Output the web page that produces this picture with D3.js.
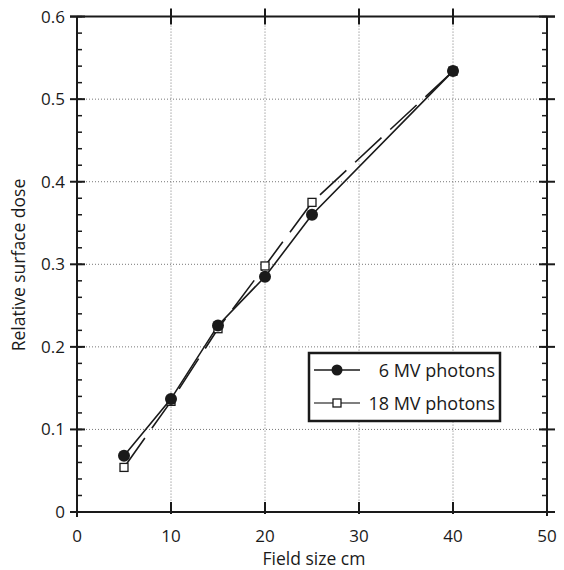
<!DOCTYPE html>
<html><head><meta charset="utf-8">
<script src="https://cdn.jsdelivr.net/npm/d3@7"></script>
<style>body{margin:0;background:#fff}svg{display:block}text{font-family:"Open Sans",sans-serif;fill:#1a1a1a}</style>
</head><body><svg id="c" width="564" height="570"></svg>
<script>
const fieldSizes = [5, 10, 15, 20, 25, 40];
const dose6MV = [0.068, 0.137, 0.226, 0.285, 0.360, 0.534];
const dose18MV = [0.054, 0.134, 0.222, 0.298, 0.375, 0.534];
const xTicks = [0, 10, 20, 30, 40, 50];
const yTicks = [0, 0.1, 0.2, 0.3, 0.4, 0.5, 0.6];
const yMinor = d3.range(0, 0.6001, 0.02);
const seriesNames = ["6 MV photons", "18 MV photons"];

const svg = d3.select("#c");
const x = d3.scaleLinear().domain([0, 50]).range([77, 547]);
const y = d3.scaleLinear().domain([0, 0.6]).range([512, 16.6]);
const L = 77, R = 547, T = 16.6, B = 512;

// gridlines
const g = svg.append("g");
g.selectAll(".gx").data(xTicks.slice(1, -1)).join("line")
  .attr("x1", d => x(d)).attr("x2", d => x(d)).attr("y1", T).attr("y2", B)
  .attr("stroke", "#777").attr("stroke-width", 1).attr("stroke-dasharray", "1,2");
g.selectAll(".gy").data(yTicks.slice(1, -1)).join("line")
  .attr("y1", d => y(d)).attr("y2", d => y(d)).attr("x1", L).attr("x2", R)
  .attr("stroke", "#777").attr("stroke-width", 1).attr("stroke-dasharray", "1,2");

// frame
const ax = svg.append("g").attr("stroke", "#1a1a1a").attr("stroke-width", 2);
ax.append("line").attr("x1", L).attr("x2", L).attr("y1", T).attr("y2", B + 5);
ax.append("line").attr("x1", R).attr("x2", R).attr("y1", T).attr("y2", B + 4);
ax.append("line").attr("x1", L - 5).attr("x2", R + 8).attr("y1", B).attr("y2", B);
ax.append("line").attr("x1", L - 7).attr("x2", R + 8).attr("y1", T).attr("y2", T);

// y ticks
ax.selectAll(".ymj").data(yTicks).join("line")
  .attr("x1", L - 7).attr("x2", L + 8).attr("y1", d => y(d)).attr("y2", d => y(d));
ax.selectAll(".ymjr").data(yTicks).join("line")
  .attr("x1", R - 8).attr("x2", R + 8).attr("y1", d => y(d)).attr("y2", d => y(d));
ax.selectAll(".ymn").data(yMinor).join("line")
  .attr("x1", L).attr("x2", L + 5).attr("y1", d => y(d)).attr("y2", d => y(d)).attr("stroke-width", 1.5);
ax.selectAll(".ymnr").data(yMinor).join("line")
  .attr("x1", R - 5).attr("x2", R).attr("y1", d => y(d)).attr("y2", d => y(d)).attr("stroke-width", 1.5);
// x ticks
ax.selectAll(".xmj").data(xTicks.slice(1)).join("line")
  .attr("x1", d => x(d)).attr("x2", d => x(d)).attr("y1", B - 10).attr("y2", B + 2);
ax.selectAll(".xmjt").data(xTicks.slice(1, -1)).join("line")
  .attr("x1", d => x(d)).attr("x2", d => x(d)).attr("y1", T - 8).attr("y2", T + 8);

// tick labels
svg.selectAll(".xl").data(xTicks).join("text")
  .attr("x", d => x(d)).attr("y", B + 30).attr("text-anchor", "middle")
  .attr("font-size", 17).text(d => d);
svg.selectAll(".yl").data(yTicks).join("text")
  .attr("x", L - 12).attr("y", d => y(d) + 6).attr("text-anchor", "end")
  .attr("font-size", 17).text(d => d === 0 ? "0" : d3.format(".1f")(d));

// axis titles
svg.append("text").attr("x", 314).attr("y", 565).attr("text-anchor", "middle")
  .attr("font-size", 17.5).text("Field size cm");
svg.append("text").attr("transform", `translate(25,265) rotate(-90)`)
  .attr("text-anchor", "middle").attr("font-size", 17.5).text("Relative surface dose");

// series
const pts6 = fieldSizes.map((f, i) => [f, dose6MV[i]]);
const pts18 = fieldSizes.map((f, i) => [f, dose18MV[i]]);
const line = d3.line().x(d => x(d[0])).y(d => y(d[1]));
svg.append("path").attr("d", line(pts18)).attr("fill", "none")
  .attr("stroke", "#1a1a1a").attr("stroke-width", 1.6).attr("stroke-dasharray", "36,12");
svg.append("path").attr("d", line(pts6)).attr("fill", "none")
  .attr("stroke", "#1a1a1a").attr("stroke-width", 1.6);
svg.selectAll(".sq").data(pts18).join("rect")
  .attr("x", d => x(d[0]) - 4).attr("y", d => y(d[1]) - 4).attr("width", 8).attr("height", 8)
  .attr("fill", "#fff").attr("stroke", "#1a1a1a").attr("stroke-width", 1.3);
svg.selectAll(".dt").data(pts6).join("circle")
  .attr("cx", d => x(d[0])).attr("cy", d => y(d[1])).attr("r", 6).attr("fill", "#1a1a1a");

// legend
const lg = svg.append("g");
lg.append("rect").attr("x", 309).attr("y", 353).attr("width", 191).attr("height", 68)
  .attr("fill", "#fff").attr("stroke", "#1a1a1a").attr("stroke-width", 2.5);
lg.append("line").attr("x1", 314).attr("x2", 360).attr("y1", 370).attr("y2", 370)
  .attr("stroke", "#1a1a1a").attr("stroke-width", 1.3);
lg.append("circle").attr("cx", 337).attr("cy", 370).attr("r", 5.5).attr("fill", "#1a1a1a");
lg.append("line").attr("x1", 314).attr("x2", 360).attr("y1", 403).attr("y2", 403)
  .attr("stroke", "#555").attr("stroke-width", 1.3);
lg.append("rect").attr("x", 333).attr("y", 399).attr("width", 8).attr("height", 8)
  .attr("fill", "#fff").attr("stroke", "#1a1a1a").attr("stroke-width", 1.3);
lg.selectAll(".lt").data(seriesNames).join("text")
  .attr("x", 495).attr("y", (d, i) => 377 + i * 33).attr("text-anchor", "end")
  .attr("font-size", 18).text(d => d);
</script></body></html>
